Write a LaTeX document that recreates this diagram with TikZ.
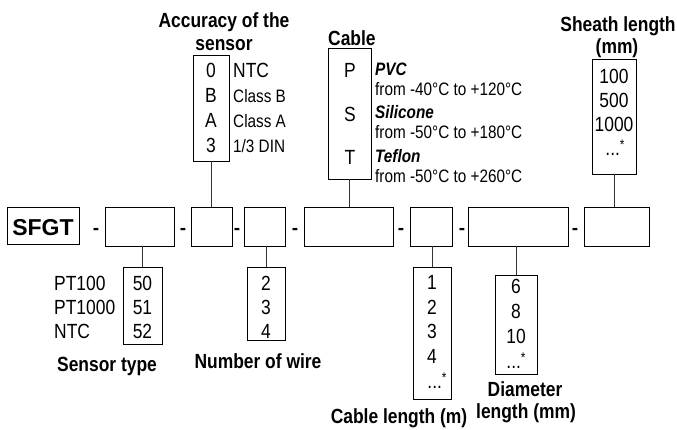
\documentclass[tikz,border=0pt]{standalone}
\usepackage{fontspec}
\setmainfont{Liberation Sans}[FakeStretch=0.85]
\newfontfamily\widefont{Liberation Sans}
\begin{document}
\begin{tikzpicture}[x=1pt,y=-1pt,
  box/.style={draw=black,line width=0.9pt,rectangle,inner sep=0pt},
  conn/.style={draw=black!80,line width=0.9pt},
  big/.style={font=\fontsize{20.5}{22}\selectfont,inner sep=0pt},
  small/.style={font=\fontsize{18}{20}\selectfont,inner sep=0pt},
  ttl/.style={font=\bfseries\fontsize{20.5}{22}\selectfont,inner sep=0pt},
  sepdash/.style={font=\widefont\bfseries\fontsize{19}{19}\selectfont,inner sep=0pt},
  bi/.style={font=\bfseries\itshape\fontsize{18}{20}\selectfont,inner sep=0pt}]
\useasboundingbox (0,0) rectangle (677,429);
\newcommand{\dstar}{...\raisebox{6pt}{\fontsize{14}{14}\selectfont *}}
% main row
\node[box,minimum width=72pt,minimum height=37pt] (sfgt) at (43,225.5) {};
\node[font=\widefont\bfseries\fontsize{23}{25}\selectfont,inner sep=0pt,anchor=base] (sfgtt) at (43,235.5) {SFGT};
\node[box,minimum width=69pt,minimum height=39pt] (b1) at (139.5,226.5) {};
\node[box,minimum width=41pt,minimum height=39pt] (b2) at (211.5,226.5) {};
\node[box,minimum width=41pt,minimum height=39pt] (b3) at (264.5,226.5) {};
\node[box,minimum width=89pt,minimum height=39pt] (b4) at (348.5,226.5) {};
\node[box,minimum width=42pt,minimum height=39pt] (b5) at (431,226.5) {};
\node[box,minimum width=100pt,minimum height=39pt] (b6) at (518,226.5) {};
\node[box,minimum width=65pt,minimum height=39pt] (b7) at (616.5,226.5) {};
\foreach \i/\x in {1/96,2/183,3/237,4/295,5/401,6/462,7/575}
  \node[sepdash,anchor=base] (d\i) at (\x,234.5) {-};
% accuracy
\node[box,minimum width=36pt,minimum height=106pt] (acc) at (211,108) {};
\draw[conn] (acc.south) -- (acc.south |- b2.north);
\node[ttl,anchor=base] (acct1) at (224,27) {Accuracy of the};
\node[ttl,anchor=base] (acct2) at (224,50) {sensor};
\node[big,anchor=base] (a0) at (211,77) {0};
\node[big,anchor=base] (a1) at (211,102) {B};
\node[big,anchor=base] (a2) at (211,127) {A};
\node[big,anchor=base] (a3) at (211,152) {3};
\node[big,anchor=base west] (al0) at (233,77) {NTC};
\node[small,anchor=base west] (al1) at (233,102) {Class B};
\node[small,anchor=base west] (al2) at (233,127) {Class A};
\node[small,anchor=base west] (al3) at (233,152) {1/3 DIN};
% cable
\node[box,minimum width=43pt,minimum height=131pt] (cab) at (349.5,113.5) {};
\draw[conn] (cab.south) -- (cab.south |- b4.north);
\node[ttl,anchor=base west] (cabt) at (328,45) {Cable};
\node[big,anchor=base] (c0) at (350,77) {P};
\node[big,anchor=base] (c1) at (350,121) {S};
\node[big,anchor=base] (c2) at (350,164) {T};
\node[bi,anchor=base west] (cl0) at (375,75) {PVC};
\node[small,anchor=base west] (cl1) at (375,95) {from -40°C to +120°C};
\node[bi,anchor=base west] (cl2) at (375,118) {Silicone};
\node[small,anchor=base west] (cl3) at (375,138.5) {from -50°C to +180°C};
\node[bi,anchor=base west] (cl4) at (375,162) {Teflon};
\node[small,anchor=base west] (cl5) at (375,182) {from -50°C to +260°C};
% sheath
\node[box,minimum width=44pt,minimum height=115pt] (sh) at (614,116.5) {};
\draw[conn] (sh.south) -- (sh.south |- b7.north);
\node[ttl,anchor=base] (sht1) at (618,31) {Sheath length};
\node[ttl,anchor=base] (sht2) at (617,53) {(mm)};
\node[big,anchor=base] (s0) at (614,83) {100};
\node[big,anchor=base] (s1) at (614,107) {500};
\node[big,anchor=base] (s2) at (614,131) {1000};
\node[big,anchor=base] (s3) at (615,155) {\dstar};
% sensor type
\node[box,minimum width=39pt,minimum height=77pt] (st) at (142.5,305.5) {};
\draw[conn] (st.north) -- (st.north |- b1.south);
\node[big,anchor=base] (t0) at (142.5,290) {50};
\node[big,anchor=base] (t1) at (142.5,314) {51};
\node[big,anchor=base] (t2) at (142.5,338) {52};
\node[big,anchor=base west] (tl0) at (54,290) {PT100};
\node[big,anchor=base west] (tl1) at (54,314) {PT1000};
\node[big,anchor=base west] (tl2) at (54,338) {NTC};
\node[ttl,anchor=base] (stt) at (107,371) {Sensor type};
% wires
\node[box,minimum width=38pt,minimum height=73pt] (wb) at (266,303.5) {};
\draw[conn] (wb.north) -- (wb.north |- b3.south);
\node[big,anchor=base] (w0) at (266,290) {2};
\node[big,anchor=base] (w1) at (266,314) {3};
\node[big,anchor=base] (w2) at (266,338) {4};
\node[ttl,anchor=base] (wbt) at (258,368) {Number of wire};
% cable length
\node[box,minimum width=38pt,minimum height=132pt] (cl) at (432,333) {};
\draw[conn] (cl.north) -- (cl.north |- b5.south);
\node[big,anchor=base] (l0) at (432,289) {1};
\node[big,anchor=base] (l1) at (432,314) {2};
\node[big,anchor=base] (l2) at (432,338) {3};
\node[big,anchor=base] (l3) at (432,363) {4};
\node[big,anchor=base] (l4) at (437,388) {\dstar};
\node[ttl,anchor=base] (clt) at (399,423) {Cable length (m)};
% diameter
\node[box,minimum width=42pt,minimum height=99pt] (dm) at (516,324.5) {};
\draw[conn] (dm.north) -- (dm.north |- b6.south);
\node[big,anchor=base] (m0) at (516,293) {6};
\node[big,anchor=base] (m1) at (516,318) {8};
\node[big,anchor=base] (m2) at (516,343) {10};
\node[big,anchor=base] (m3) at (516,368) {\dstar};
\node[ttl,anchor=base] (dmt1) at (525,396) {Diameter};
\node[ttl,anchor=base] (dmt2) at (526,418) {length (mm)};
\end{tikzpicture}
\end{document}
